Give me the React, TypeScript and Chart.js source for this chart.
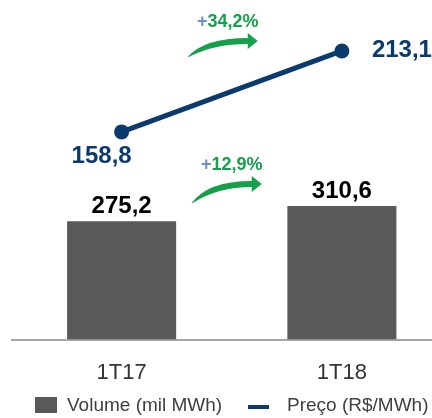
import React, { useEffect, useRef } from "react";
import { Chart, registerables } from "chart.js";

Chart.register(...registerables);

const categories = ["1T17", "1T18"];
const volume = [275.2, 310.6];
const price = [158.8, 213.1];
const seriesNames = ["Volume (mil MWh)", "Preço (R$/MWh)"];
const growthPrice = "+34,2%";
const growthVolume = "+12,9%";

const FONT = '"Liberation Sans", Arial, sans-serif';
const NAVY = "#0b3a6e";
const GRAY = "#595959";
const GREEN = "#17a04c";
const PLUS = "#6d8fcb";

const fmt = (v: number) => v.toFixed(1).replace(".", ",");

function drawArrow(ctx: CanvasRenderingContext2D, sx: number, sy: number, hx: number, hy: number, tx: number) {
  ctx.beginPath();
  ctx.moveTo(sx, sy);
  ctx.quadraticCurveTo(sx + 16, hy - 3, hx, hy - 3);
  ctx.lineTo(hx, hy - 8);
  ctx.lineTo(tx, hy);
  ctx.lineTo(hx, hy + 8);
  ctx.lineTo(hx, hy + 3);
  ctx.quadraticCurveTo(sx + 26, hy + 3, sx + 1, sy);
  ctx.closePath();
  ctx.fillStyle = GREEN;
  ctx.fill();
}

function drawGrowth(ctx: CanvasRenderingContext2D, text: string, cx: number, by: number) {
  ctx.font = `bold 18px ${FONT}`;
  ctx.textBaseline = "alphabetic";
  ctx.textAlign = "left";
  const w = ctx.measureText(text).width;
  const plusW = ctx.measureText(text[0]).width;
  const x = cx - w / 2;
  ctx.fillStyle = PLUS;
  ctx.fillText(text[0], x, by);
  ctx.fillStyle = GREEN;
  ctx.fillText(text.slice(1), x + plusW, by);
}

const overlay = {
  id: "overlay",
  afterDatasetsDraw(chart: any) {
    const ctx: CanvasRenderingContext2D = chart.ctx;
    const bars = chart.getDatasetMeta(0).data;
    const pts = chart.getDatasetMeta(1).data;
    ctx.save();
    ctx.font = `bold 24px ${FONT}`;
    ctx.textBaseline = "alphabetic";
    ctx.textAlign = "center";
    ctx.fillStyle = "#000";
    bars.forEach((b: any, i: number) => ctx.fillText(fmt(volume[i]), b.x, b.y - 8));
    ctx.fillStyle = NAVY;
    ctx.fillText(fmt(price[0]), pts[0].x - 20, pts[0].y + 31);
    ctx.textAlign = "left";
    ctx.fillText(fmt(price[1]), pts[1].x + 30, pts[1].y + 6);

    const mid = (bars[0].x + bars[1].x) / 2;
    drawArrow(ctx, mid - 44, pts[1].y + 6, mid + 16, pts[1].y - 10, mid + 26);
    drawArrow(ctx, mid - 40, bars[1].y - 3, mid + 20, bars[1].y - 22, mid + 30);
    drawGrowth(ctx, growthPrice, mid - 4, pts[1].y - 24);
    drawGrowth(ctx, growthVolume, mid, bars[1].y - 36);

    // legend
    ctx.font = `19px ${FONT}`;
    ctx.textAlign = "left";
    ctx.fillStyle = GRAY;
    ctx.fillRect(35, 397, 22, 16);
    ctx.fillStyle = "#404040";
    ctx.fillText(seriesNames[0], 67, 411);
    ctx.fillStyle = NAVY;
    ctx.fillRect(248, 405, 21, 4);
    ctx.fillStyle = "#404040";
    ctx.fillText(seriesNames[1], 287, 411);
    ctx.restore();
  },
};

export default function App() {
  const ref = useRef<HTMLCanvasElement>(null);
  useEffect(() => {
    if (!ref.current) return;
    const chart = new Chart(ref.current, {
      type: "bar",
      data: {
        labels: categories,
        datasets: [
          {
            type: "bar",
            label: seriesNames[0],
            data: volume,
            backgroundColor: GRAY,
            yAxisID: "y",
            order: 2,
            categoryPercentage: 0.495,
            barPercentage: 1,
          } as any,
          {
            type: "line",
            label: seriesNames[1],
            data: price,
            borderColor: NAVY,
            backgroundColor: NAVY,
            borderWidth: 5,
            pointRadius: 7.5,
            pointBackgroundColor: NAVY,
            pointBorderWidth: 0,
            yAxisID: "y1",
            order: 1,
          } as any,
        ],
      },
      options: {
        responsive: false,
        animation: false,
        devicePixelRatio: 1,
        layout: { autoPadding: false, padding: { left: 11.5, right: 8, top: 0, bottom: 12 } },
        plugins: { legend: { display: false }, tooltip: { enabled: false } },
        scales: {
          x: {
            grid: { display: false, drawTicks: false },
            border: { display: true, color: "#a6a6a6", width: 2 },
            ticks: { color: "#333", font: { size: 22, family: FONT }, padding: 20 },
          },
          y: { display: false, min: 0, max: 790 },
          y1: { display: false, min: 19.4, max: 247.3, position: "right" },
        },
      },
      plugins: [overlay],
    });
    return () => chart.destroy();
  }, []);
  return (
    <div style={{ position: "absolute", left: 0, top: 0, width: 432, height: 418, overflow: "hidden", background: "#fff" }}>
      <canvas ref={ref} width={460} height={418} style={{ display: "block" }} />
    </div>
  );
}
